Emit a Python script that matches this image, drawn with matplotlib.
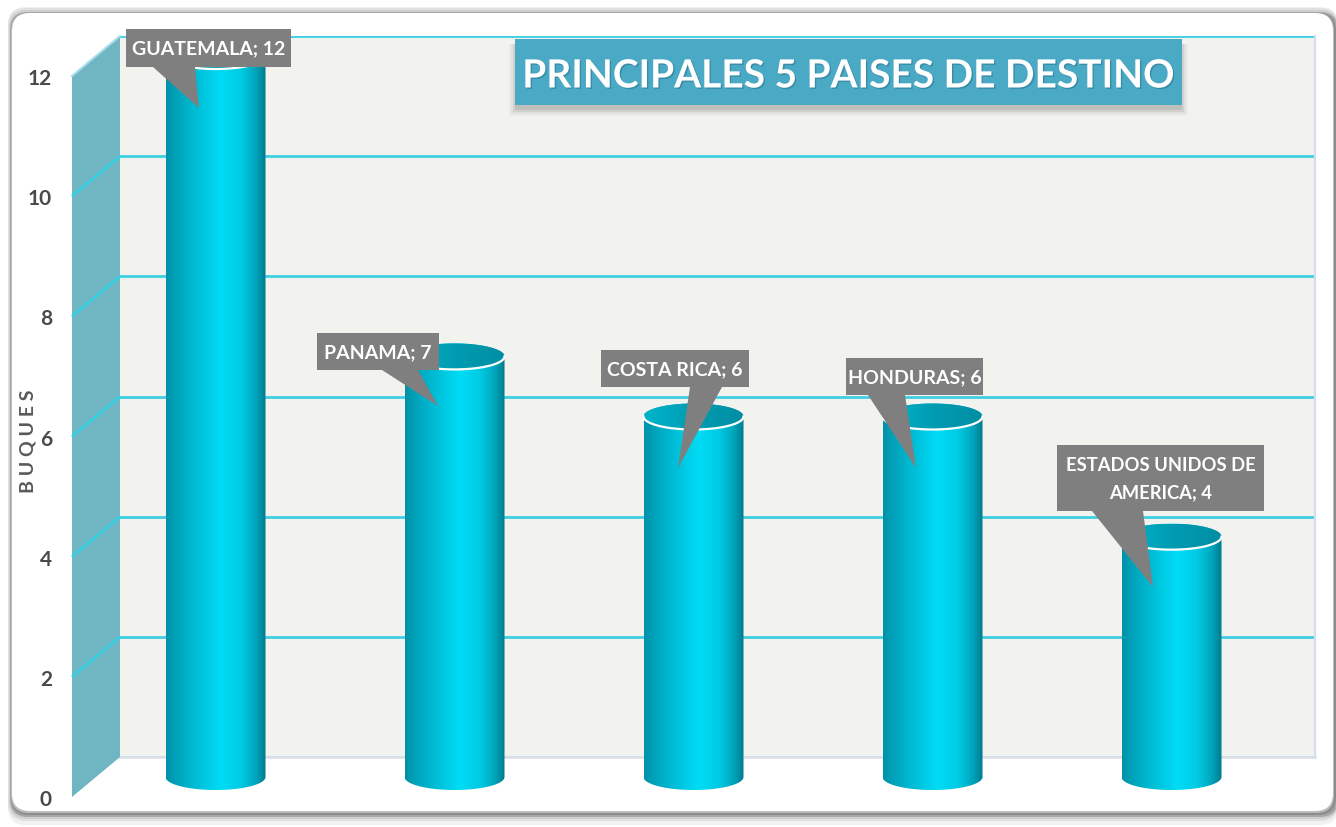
import numpy as np
import matplotlib
matplotlib.use('Agg')
import matplotlib.pyplot as plt
import matplotlib.patheffects as pe
from matplotlib.colors import LinearSegmentedColormap
from matplotlib.patches import FancyBboxPatch, Polygon, Rectangle
from matplotlib.transforms import ScaledTranslation

W, H = 1336, 827

countries = ['GUATEMALA', 'PANAMA', 'COSTA RICA', 'HONDURAS', 'ESTADOS UNIDOS DE\nAMERICA']
buques = [12, 7, 6, 6, 4]
y_ticks = [0, 2, 4, 6, 8, 10, 12]

# callout layout in pixels: box (x0, y0, x1, y1), pointer base x0, x1, pointer tip, font size
callouts = [
    ((126, 29, 291, 67), (153, 195), (199, 108), 14),
    ((317, 333, 439, 370), (382, 418), (438, 406), 14),
    ((601, 350, 749, 387), (690, 722), (678, 468), 14),
    ((846, 358, 983, 395), (868, 905), (916, 468), 14),
    ((1057, 445, 1264, 511), (1092, 1143), (1153, 587), 13.2),
]

plt.rcParams['font.family'] = ['Lato', 'DejaVu Sans']

fig = plt.figure(figsize=(W / 100, H / 100), dpi=100, facecolor='white')


def px_axes(zorder):
    a = fig.add_axes([0, 0, 1, 1], zorder=zorder)
    a.set_xlim(0, W)
    a.set_ylim(H, 0)
    a.axis('off')
    a.patch.set_alpha(0)
    return a


# frame behind everything
bg = px_axes(0)
steps = [(8, 7, 1338, 825, '#f1f1f1'), (8, 8, 1338, 821, '#e0e0e0'), (9, 10, 1338, 819, '#cfcfcf'),
         (10, 12, 1338, 817, '#a6a6a6'), (11, 13, 1336, 815, '#8c8c8c'), (11, 13, 1334, 813, '#bcbcbc'),
         (12, 13, 1333, 811, '#ffffff')]
for x0, y0, x1, y1, c in steps:
    bg.add_patch(FancyBboxPatch((x0 + 18, y0 + 18), x1 - x0 - 36, y1 - y0 - 36,
                                boxstyle='round,pad=18,rounding_size=18', fc=c, ec='none'))

# main axes sit on the back wall of the 3d box
left, right, top, bottom = 120, 1315, 36, 757
ax = fig.add_axes([left / W, 1 - bottom / H, (right - left) / W, (bottom - top) / H], zorder=1)
ax.set_xlim(-0.5, 4.5)
ax.set_ylim(0, 12)
ax.set_autoscale_on(False)
ax.set_facecolor('#f2f2ee')
for s in ax.spines.values():
    s.set_visible(False)
ax.axvline(4.5, color='#d5dcee', lw=1.5, clip_on=False)

per_px_x = 5 / (right - left)
per_px_y = 12 / (bottom - top)
depth_x = 48 * per_px_x
depth_y = 40 * per_px_y

ax.set_xticks([])
ax.set_yticks(y_ticks)
ax.grid(axis='y', color='#3fd0e4', lw=2, zorder=1)
ax.set_axisbelow(True)
ax.axhline(0, color='#dfe1ea', lw=2, zorder=1.5, clip_on=False)
ax.tick_params(axis='y', length=0, pad=49, labelsize=15, labelcolor='#4a4a4a')
offset = ScaledTranslation(0, -41 / 100, fig.dpi_scale_trans)
for lab in ax.get_yticklabels():
    lab.set_fontweight('bold')
    lab.set_transform(lab.get_transform() + offset)

ax.text(-0.5 - 92 * per_px_x, 5.26, 'B U Q U E S', rotation=90, ha='center', va='center',
        fontsize=14, fontweight='bold', color='#595959')

# side wall
ax.add_patch(Polygon([(-0.5 - depth_x, -depth_y), (-0.5, 0), (-0.5, 12), (-0.5 - depth_x, 12 - depth_y)],
                     closed=True, fc='#6fb5c2', ec='none', clip_on=False, zorder=2))
for t in y_ticks[1:-1]:
    ax.plot([-0.5 - depth_x, -0.5], [t - depth_y, t], color='#38cfe2', lw=2, clip_on=False, zorder=2.1,
            solid_capstyle='butt')
ax.plot([-0.5 - depth_x, -0.5], [12 - depth_y, 12], color='#a8dcea', lw=1.5, clip_on=False, zorder=2.1)

# cylinders
body_cmap = LinearSegmentedColormap.from_list('body', [
    (0.0, '#0091a8'), (0.1, '#00a2ba'), (0.3, '#00bdd6'), (0.55, '#00dcf6'),
    (0.75, '#00cbe4'), (0.9, '#00a5bc'), (1.0, '#007a8e')])
cap_cmap = LinearSegmentedColormap.from_list('cap', [
    (0.0, '#00b4cc'), (0.5, '#009cb2'), (1.0, '#008ea4')])

half_w = 50 * per_px_x
half_h = 13 * per_px_y
base = -20 * per_px_y
shift = -24 * per_px_x
grad = np.linspace(0, 1, 256).reshape(1, -1)
ang = np.linspace(0, np.pi, 80)

for i, v in enumerate(buques):
    cx = i + shift
    y1 = v + base
    xs_low = cx - half_w * np.cos(ang)
    ys_low = base - half_h * np.sin(ang)
    xs_top = cx + half_w * np.cos(ang)
    ys_top = y1 + half_h * np.sin(ang)
    outline = Polygon(np.column_stack([np.r_[xs_low, xs_top], np.r_[ys_low, ys_top]]),
                      closed=True, fc='none', ec='none', transform=ax.transData)
    ax.add_patch(outline)
    outline.set_clip_on(False)
    im = ax.imshow(grad, cmap=body_cmap, aspect='auto', zorder=3, interpolation='bilinear',
                   extent=(cx - half_w, cx + half_w, base - half_h, y1 + half_h))
    im.set_clip_path(outline)
    im.set_clip_box(fig.bbox)

    # open top of the cylinder
    tt = np.linspace(0, 2 * np.pi, 160)
    cap = Polygon(np.column_stack([cx + half_w * np.cos(tt), y1 + half_h * np.sin(tt)]),
                  closed=True, fc='none', ec='none', transform=ax.transData)
    ax.add_patch(cap)
    cap.set_clip_on(False)
    im2 = ax.imshow(grad, cmap=cap_cmap, aspect='auto', zorder=3.2, interpolation='bilinear',
                    extent=(cx - half_w, cx + half_w, y1 - half_h, y1 + half_h))
    im2.set_clip_path(cap)
    im2.set_clip_box(fig.bbox)
    ax.plot(cx + half_w * np.cos(ang), y1 - half_h * np.sin(ang), color='white', lw=1.6,
            zorder=3.4, clip_on=False)

ax.set_xlim(-0.5, 4.5)
ax.set_ylim(0, 12)

# title and data callouts on top
fg = px_axes(2)
for grow, alpha in [(6, 0.04), (4, 0.06), (2, 0.09), (0, 0.12)]:
    fg.add_patch(Rectangle((515 - grow, 39 + 5), 667 + 2 * grow, 66 + grow, fc='#404040',
                           ec='none', alpha=alpha))
fg.add_patch(Rectangle((515, 39), 667, 66, fc='#4aa9c5', ec='none'))
fg.text(848.5, 76, 'PRINCIPALES 5 PAISES DE DESTINO', ha='center', va='center', color='white',
        fontsize=28, fontweight='bold',
        path_effects=[pe.withSimplePatchShadow(offset=(1, -1), shadow_rgbFace='#2a7088', alpha=0.5)])

for name, v, (box, ptr, tip, size) in zip(countries, buques, callouts):
    x0, y0, x1, y1 = box
    fg.add_patch(Polygon([(x0, y0), (x1, y0), (x1, y1), (ptr[1], y1), tip, (ptr[0], y1), (x0, y1)],
                         closed=True, fc='#7f7f7f', ec='none'))
    fg.text((x0 + x1) / 2, (y0 + y1) / 2 + 1, f'{name}; {v}', ha='center', va='center', color='white',
            fontsize=size, fontweight='bold', linespacing=1.75)

fig.savefig('out.png', dpi=100)
